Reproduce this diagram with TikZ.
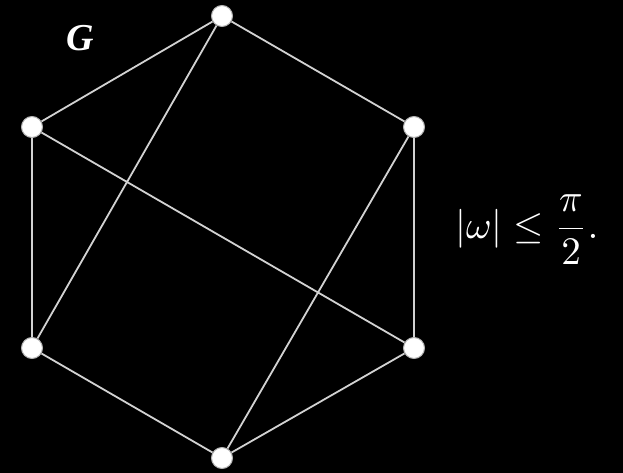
\documentclass[tikz,border=0pt]{standalone}
\usepackage{fontspec}
\usepackage{graphicx}
\setmainfont{Carlito}
\newfontfamily\gfont{Liberation Serif}
\begin{document}
\begin{tikzpicture}[x=1pt,y=-1pt,
  vtx/.style={circle,fill=white,draw=gray!60,line width=1pt,minimum size=21pt,inner sep=0pt},
  edge/.style={draw=gray!35,line width=1.8pt}]
\fill[black] (0,0) rectangle (623,473);
\useasboundingbox (0,0) rectangle (623,473);
\node[vtx] (t) at (222,16) {};
\node[vtx] (tr) at (414,127) {};
\node[vtx] (br) at (414,348) {};
\node[vtx] (b) at (222,458) {};
\node[vtx] (bl) at (32,348) {};
\node[vtx] (tl) at (32,127) {};
\path[edge] (t) -- (tr) (tr) -- (br) (br) -- (b) (b) -- (bl) (bl) -- (tl) (tl) -- (t)
  (t) -- (bl) (tl) -- (br) (tr) -- (b);
\node[text=white,font=\gfont\fontsize{38}{42}\selectfont\bfseries\itshape] (g) at (80,38) {G};
\node[text=white,anchor=west,inner sep=0pt] (f) at (455,230) {\scalebox{3.9}{$\displaystyle|\omega|\leq\frac{\pi}{2}.$}};
\end{tikzpicture}
\end{document}
